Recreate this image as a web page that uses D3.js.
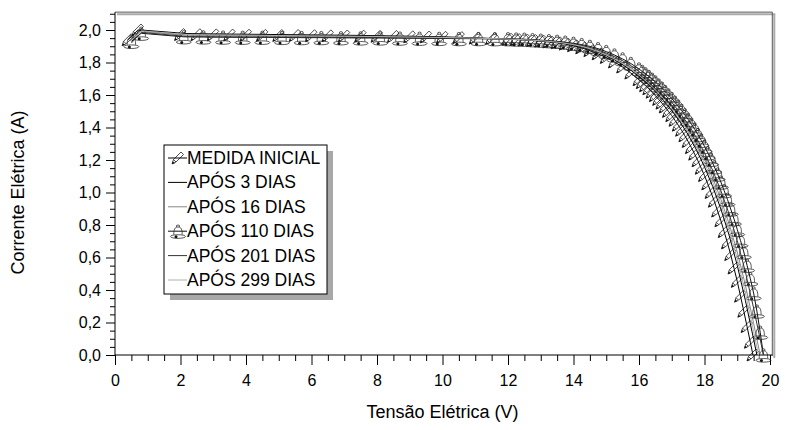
<!DOCTYPE html>
<html><head><meta charset="utf-8">
<script src="https://cdn.jsdelivr.net/npm/d3@7"></script>
<style>body{margin:0;background:#fff}svg{display:block;font-family:"Liberation Sans",Arial,sans-serif}</style>
</head><body><svg id="c" width="785" height="430"></svg>
<script>
const seriesNames = ["MEDIDA INICIAL","APÓS 3 DIAS","APÓS 16 DIAS","APÓS 110 DIAS","APÓS 201 DIAS","APÓS 299 DIAS"];
const medidaInicial = [[0.4,1.94],[0.7,2.0],[2.0,1.972],[2.5,1.971],[3.0,1.970],[3.5,1.969],[4.0,1.968],[4.5,1.967],[5.0,1.966],[5.5,1.966],[6.0,1.965],[6.5,1.964],[7.0,1.963],[7.5,1.962],[8.0,1.961],[8.5,1.960],[9.0,1.958],[9.5,1.957],[10.0,1.955],[10.5,1.953],[11.0,1.950],[11.5,1.947],[12.0,1.943],[12.25,1.941],[12.5,1.938],[12.75,1.935],[13.0,1.931],[13.25,1.926],[13.5,1.921],[13.75,1.913],[14.0,1.903],[14.25,1.890],[14.5,1.873],[14.75,1.853],[15.0,1.831],[15.25,1.803],[15.5,1.772],[15.75,1.735],[16.0,1.694],[16.1,1.676],[16.2,1.657],[16.3,1.638],[16.4,1.617],[16.5,1.596],[16.6,1.573],[16.7,1.550],[16.8,1.526],[16.9,1.499],[17.0,1.473],[17.1,1.444],[17.2,1.414],[17.3,1.383],[17.4,1.349],[17.5,1.314],[17.6,1.276],[17.7,1.236],[17.8,1.195],[17.9,1.149],[18.0,1.104],[18.1,1.053],[18.2,1.000],[18.3,0.946],[18.4,0.886],[18.5,0.826],[18.6,0.759],[18.7,0.690],[18.8,0.618],[18.9,0.535],[19.0,0.453],[19.1,0.362],[19.2,0.269],[19.3,0.175],[19.4,0.078],[19.48,0.0]];
const apos3 = [[0.5,1.94],[0.8,2.0],[2.2,1.978],[3,1.976],[4,1.974],[5,1.972],[6,1.970],[7,1.968],[8,1.965],[9,1.962],[10,1.958],[11,1.952],[12,1.944],[12.25,1.942],[12.5,1.94],[12.75,1.937],[13,1.933],[13.25,1.929],[13.5,1.924],[13.75,1.917],[14,1.908],[14.25,1.896],[14.5,1.881],[14.75,1.863],[15,1.841],[15.25,1.817],[15.5,1.787],[15.75,1.753],[16,1.714],[16.25,1.67],[16.5,1.621],[16.75,1.566],[17,1.505],[17.25,1.435],[17.5,1.356],[17.75,1.264],[18,1.158],[18.25,1.037],[18.5,0.898],[18.75,0.738],[19,0.552],[19.25,0.334],[19.5,0.097],[19.6,0.0]];
const apos16 = [[0.45,1.93],[0.75,1.99],[2.2,1.968],[3,1.966],[4,1.964],[5,1.962],[6,1.96],[7,1.958],[8,1.956],[9,1.954],[10,1.951],[11,1.948],[12,1.944],[12.25,1.943],[12.5,1.941],[12.75,1.938],[13,1.935],[13.25,1.931],[13.5,1.926],[13.75,1.92],[14,1.912],[14.25,1.902],[14.5,1.888],[14.75,1.871],[15,1.85],[15.25,1.828],[15.5,1.8],[15.75,1.768],[16,1.73],[16.25,1.689],[16.5,1.642],[16.75,1.59],[17,1.531],[17.25,1.465],[17.5,1.39],[17.75,1.304],[18,1.204],[18.25,1.09],[18.5,0.958],[18.75,0.808],[19,0.634],[19.25,0.428],[19.5,0.194],[19.7,0.0]];
const apos110 = [[0.5,1.93],[0.8,1.98],[2.1,1.958],[2.7,1.957],[3.3,1.956],[3.9,1.955],[4.5,1.955],[5.1,1.954],[5.7,1.953],[6.3,1.953],[6.9,1.952],[7.5,1.951],[8.1,1.951],[8.7,1.950],[9.3,1.949],[9.9,1.948],[10.5,1.947],[11.1,1.947],[11.6,1.946],[12.0,1.946],[12.25,1.944],[12.5,1.943],[12.75,1.94],[13.0,1.937],[13.25,1.934],[13.5,1.93],[13.75,1.925],[14.0,1.918],[14.25,1.91],[14.5,1.899],[14.75,1.885],[15.0,1.867],[15.25,1.846],[15.5,1.822],[15.75,1.794],[16.0,1.76],[16.1,1.745],[16.2,1.73],[16.3,1.714],[16.4,1.697],[16.5,1.68],[16.6,1.661],[16.7,1.642],[16.8,1.621],[16.9,1.6],[17.0,1.578],[17.1,1.555],[17.2,1.531],[17.3,1.505],[17.4,1.478],[17.5,1.45],[17.6,1.42],[17.7,1.39],[17.8,1.356],[17.9,1.321],[18.0,1.284],[18.1,1.244],[18.2,1.204],[18.3,1.158],[18.4,1.113],[18.5,1.064],[18.6,1.011],[18.7,0.958],[18.8,0.898],[18.9,0.838],[19.0,0.773],[19.1,0.704],[19.2,0.634],[19.3,0.552],[19.4,0.469],[19.5,0.381],[19.6,0.27],[19.7,0.14],[19.8,0.0]];
const apos201 = [[0.5,1.92],[0.8,1.985],[2.2,1.96],[3,1.958],[4,1.957],[5,1.956],[6,1.955],[7,1.954],[8,1.953],[9,1.951],[10,1.949],[11,1.947],[12,1.945],[12.25,1.944],[12.5,1.942],[12.75,1.94],[13,1.936],[13.25,1.933],[13.5,1.928],[13.75,1.922],[14,1.915],[14.25,1.906],[14.5,1.893],[14.75,1.878],[15,1.858],[15.25,1.837],[15.5,1.811],[15.75,1.781],[16,1.745],[16.25,1.705],[16.5,1.661],[16.75,1.611],[17,1.555],[17.25,1.491],[17.5,1.42],[17.75,1.338],[18,1.244],[18.25,1.136],[18.5,1.011],[18.75,0.868],[19,0.704],[19.25,0.51],[19.5,0.288],[19.7,0.097],[19.8,0.0]];
const apos299 = [[0.5,1.935],[0.8,1.995],[2.2,1.972],[3,1.97],[4,1.968],[5,1.966],[6,1.964],[7,1.962],[8,1.96],[9,1.957],[10,1.954],[11,1.95],[12,1.944],[12.25,1.942],[12.5,1.94],[12.75,1.937],[13,1.934],[13.25,1.93],[13.5,1.925],[13.75,1.918],[14,1.91],[14.25,1.899],[14.5,1.885],[14.75,1.867],[15,1.846],[15.25,1.822],[15.5,1.794],[15.75,1.76],[16,1.722],[16.25,1.68],[16.5,1.632],[16.75,1.578],[17,1.518],[17.25,1.45],[17.5,1.373],[17.75,1.284],[18,1.181],[18.25,1.064],[18.5,0.928],[18.75,0.773],[19,0.593],[19.25,0.381],[19.5,0.145],[19.65,0.0]];
const xMajorTicks = [0,2,4,6,8,10,12,14,16,18,20];
const yMajorTicks = [0,0.2,0.4,0.6,0.8,1.0,1.2,1.4,1.6,1.8,2.0];
const xTitle = "Tensão Elétrica (V)";
const yTitle = "Corrente Elétrica (A)";

const seriesData = [medidaInicial, apos3, apos16, apos110, apos201, apos299];
const seriesStyle = [
  {stroke:"#000", marker:"pencil"},
  {stroke:"#000", marker:null},
  {stroke:"#888", marker:null},
  {stroke:"#111", marker:"bell"},
  {stroke:"#333", marker:null},
  {stroke:"#b0b0b0", marker:null}
];

const svg = d3.select("#c");
const x = d3.scaleLinear().domain([0,20]).range([115,770]);
const y = d3.scaleLinear().domain([0,2]).range([355,30]);
const yTop = 2.11, xRight = 20.07;

const fmt = d => d.toFixed(1).replace(".", ",");

// frame (top/right with shadow)
const fr = svg.append("g");
fr.append("line").attr("x1",x(0)+2).attr("x2",x(xRight)+3).attr("y1",y(yTop)+2).attr("y2",y(yTop)+2).attr("stroke","#aaa").attr("stroke-width",2);
fr.append("line").attr("x1",x(xRight)+2).attr("x2",x(xRight)+2).attr("y1",y(yTop)+2).attr("y2",y(0)+3).attr("stroke","#aaa").attr("stroke-width",2);
fr.append("line").attr("x1",x(0)).attr("x2",x(xRight)).attr("y1",y(yTop)).attr("y2",y(yTop)).attr("stroke","#555");
fr.append("line").attr("x1",x(xRight)).attr("x2",x(xRight)).attr("y1",y(yTop)).attr("y2",y(0)+1).attr("stroke","#555");

// axes
const xMinor = d3.range(0, 20.001, 0.5).filter(v => Math.abs(v % 2) > 1e-6);
const yMinor = d3.range(0, 2.1001, 0.05).filter(v => Math.abs(Math.round(v*100) % 20) > 1e-6);

const gx = svg.append("g").attr("transform",`translate(0,${y(0)})`);
gx.call(d3.axisBottom(x).tickValues(xMajorTicks).tickSize(10).tickSizeOuter(0).tickFormat(d=>d3.format("d")(d)).tickPadding(10));
gx.append("g").call(d3.axisBottom(x).tickValues(xMinor).tickSize(6).tickFormat(""));
gx.selectAll(".domain").remove();
gx.selectAll("text").attr("font-size",16).attr("font-family","Liberation Sans, Arial, sans-serif").attr("fill","#000");
gx.selectAll("line").attr("stroke","#000");

const gy = svg.append("g").attr("transform",`translate(${x(0)},0)`);
gy.call(d3.axisLeft(y).tickValues(yMajorTicks).tickSize(9).tickFormat(fmt).tickPadding(5));
gy.append("g").call(d3.axisLeft(y).tickValues(yMinor).tickSize(5).tickFormat(""));
gy.selectAll(".domain").remove();
gy.selectAll("text").attr("font-size",16).attr("font-family","Liberation Sans, Arial, sans-serif").attr("fill","#000");
gy.selectAll("line").attr("stroke","#000");

svg.append("line").attr("x1",x(0)).attr("x2",x(xRight)).attr("y1",y(0)).attr("y2",y(0)).attr("stroke","#000");
svg.append("line").attr("x1",x(0)).attr("x2",x(0)).attr("y1",y(yTop)).attr("y2",y(0)).attr("stroke","#000");

// markers
const bellPath = "M-4.2,3.4 C-4.2,-1.8 -3.3,-4.2 0,-4.2 C3.3,-4.2 4.2,-1.8 4.2,3.4 M-7.5,5.2 C-7.5,3 7.5,3 7.5,5.2 C7.5,7.8 -7.5,7.8 -7.5,5.2 Z M-1.4,-4.2 A1.5,1.5 0 1 1 1.4,-4.2";
const pencilPath = "M-6,6 L-4.5,1.5 L3,-6 L5.5,-3.5 L-2,4 Z M-4.5,1.5 L-2,4";
const pencilTip = "M-6,6 L-5.2,3.2 L-3.2,5.2 Z";

const line = d3.line().x(d=>x(d[0])).y(d=>y(d[1]));
const plot = svg.append("g");

function drawMarker(g, type, px, py) {
  const m = g.append("g").attr("transform",`translate(${px},${py})`);
  if (type === "bell") {
    m.append("path").attr("d",bellPath).attr("fill","none").attr("stroke","#222").attr("stroke-width",0.75);
    m.append("circle").attr("cx",-2).attr("cy",5.6).attr("r",1.5).attr("fill","#111");
  } else if (type === "pencil") {
    m.append("path").attr("d",pencilPath).attr("fill","none").attr("stroke","#111").attr("stroke-width",0.75);
    m.append("path").attr("d",pencilTip).attr("fill","#111");
  }
}

seriesData.forEach((data, i) => {
  const st = seriesStyle[i];
  const g = plot.append("g");
  g.append("path").datum(data).attr("d", line).attr("fill","none").attr("stroke", st.stroke).attr("stroke-width",1);
  if (st.marker) data.forEach(d => drawMarker(g, st.marker, x(d[0]), y(d[1])));
});

// legend
const lg = svg.append("g");
const lx = 164, ly = 145, lw = 163, lh = 149;
lg.append("rect").attr("x",lx+6).attr("y",ly+6).attr("width",lw).attr("height",lh).attr("fill","#a8a8a8");
lg.append("rect").attr("x",lx).attr("y",ly).attr("width",lw).attr("height",lh).attr("fill","#fff").attr("stroke","#000");
seriesNames.forEach((name, i) => {
  const cy = ly + 13 + i*24.4;
  const st = seriesStyle[i];
  lg.append("line").attr("x1",lx+4).attr("x2",lx+23).attr("y1",cy).attr("y2",cy).attr("stroke",st.stroke);
  if (st.marker) drawMarker(lg, st.marker, lx+14, cy);
  lg.append("text").attr("x",lx+23).attr("y",cy+6).attr("font-size",17.5).attr("fill","#000").text(name);
});

// titles
svg.append("text").attr("x",(x(0)+x(20))/2).attr("y",418).attr("text-anchor","middle").attr("font-size",18).text(xTitle);
svg.append("text").attr("transform",`translate(24,${y(1)}) rotate(-90)`).attr("text-anchor","middle").attr("font-size",18).text(yTitle);
</script></body></html>
